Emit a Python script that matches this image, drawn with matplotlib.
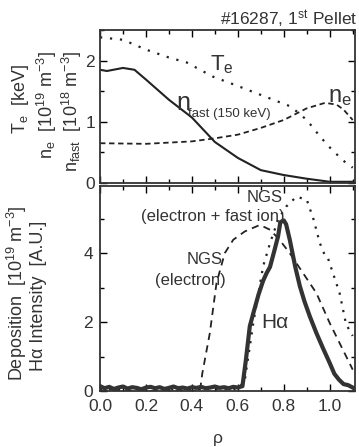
import matplotlib
matplotlib.use("Agg")
import matplotlib.pyplot as plt
from matplotlib.ticker import MultipleLocator

plt.rcParams['font.family'] = ['Liberation Sans', 'DejaVu Sans']
plt.rcParams['mathtext.default'] = 'regular'

# top panel profiles
rho_te = [0.0, 0.1, 0.2, 0.3, 0.377, 0.49, 0.61, 0.72, 0.83, 0.90, 0.96, 1.01, 1.07, 1.10]
te = [2.38, 2.34, 2.18, 2.05, 1.97, 1.74, 1.57, 1.41, 1.25, 1.03, 0.75, 0.54, 0.33, 0.25]

rho_ne = [0.0, 0.2, 0.4, 0.5, 0.6, 0.7, 0.8, 0.9, 0.98, 1.03, 1.06, 1.10]
ne = [0.65, 0.64, 0.68, 0.73, 0.79, 0.90, 1.03, 1.22, 1.31, 1.28, 1.20, 1.03]

rho_nf = [0.0, 0.03, 0.1, 0.15, 0.2, 0.3, 0.4, 0.5, 0.6, 0.7, 0.8, 0.9, 1.0, 1.1]
nfast = [1.85, 1.83, 1.88, 1.85, 1.69, 1.36, 1.07, 0.67, 0.41, 0.21, 0.13, 0.07, 0.02, 0.02]

# bottom panel: H-alpha and NGS deposition
rho_ha = [0.00, 0.02, 0.04, 0.06, 0.08, 0.10, 0.12, 0.14, 0.16, 0.18, 0.20, 0.22,
          0.24, 0.26, 0.28, 0.30, 0.32, 0.34, 0.36, 0.38, 0.40, 0.42, 0.44, 0.46,
          0.48, 0.50, 0.52, 0.54, 0.56, 0.58, 0.60, 0.62, 0.635, 0.652, 0.667,
          0.69, 0.71, 0.725, 0.74, 0.76, 0.775, 0.785, 0.80, 0.81, 0.826, 0.85,
          0.87, 0.89, 0.913, 0.942, 0.97, 1.00, 1.02, 1.04, 1.06, 1.08, 1.10]
ha = [0.14, 0.08, 0.12, 0.06, 0.10, 0.13, 0.07, 0.11, 0.09, 0.05, 0.10, 0.12,
      0.08, 0.11, 0.06, 0.09, 0.13, 0.08, 0.10, 0.07, 0.11, 0.09, 0.12, 0.08,
      0.10, 0.13, 0.09, 0.11, 0.08, 0.12, 0.10, 0.14, 0.9, 1.88, 2.25,
      2.8, 3.2, 3.42, 3.6, 4.1, 4.49, 4.9, 4.95, 4.84, 4.39, 3.6,
      3.04, 2.6, 2.17, 1.68, 1.25, 0.81, 0.5, 0.33, 0.2, 0.17, 0.1]

rho_ngs_e = [0.0, 0.435, 0.445, 0.478, 0.507, 0.543, 0.58, 0.63, 0.696, 0.74,
             0.78, 0.826, 0.884, 0.942, 1.0, 1.057, 1.10]
ngs_e = [0.0, 0.0, 0.5, 1.68, 3.13, 4.0, 4.39, 4.63, 4.82, 4.68,
         4.4, 4.0, 3.42, 2.84, 1.97, 1.2, 0.62]

rho_ngs_f = [0.0, 0.60, 0.63, 0.667, 0.71, 0.74, 0.775, 0.81, 0.855, 0.9, 0.93,
             0.957, 0.978, 0.99, 1.014, 1.043, 1.07, 1.09, 1.10]
ngs_f = [0.05, 0.05, 0.3, 1.97, 3.62, 4.29, 4.97, 5.35, 5.64, 5.55, 4.97,
         4.29, 3.95, 3.9, 3.42, 2.84, 1.97, 1.7, 1.6]

ink = '#333333'

fig = plt.figure(figsize=(3.59, 4.47), dpi=100)
ax1 = fig.add_axes([0.2786, 0.5906, 0.7103, 0.3423])
ax2 = fig.add_axes([0.2786, 0.1253, 0.7103, 0.4586])

ax1.plot(rho_te, te, color='#222222', lw=1.6, linestyle=(0, (1, 3.5)))
ax1.plot(rho_ne, ne, color='#222222', lw=1.3, linestyle=(0, (3, 2)))
ax1.plot(rho_nf, nfast, color='#222222', lw=1.5)

ax1.set_xlim(0, 1.11)
ax1.set_ylim(0, 2.5)
ax1.xaxis.set_major_locator(MultipleLocator(0.2))
ax1.xaxis.set_minor_locator(MultipleLocator(0.1))
ax1.yaxis.set_major_locator(MultipleLocator(1))
ax1.yaxis.set_minor_locator(MultipleLocator(0.5))
ax1.set_xticklabels([])

# curve labels
ax1.text(0.478, 1.93, r'$T_{e}$', fontsize=16, color=ink, ha='left', va='center')
ax1.text(0.333, 1.30, 'n', fontsize=18, color=ink, ha='left', va='center')
ax1.text(0.385, 1.13, 'fast (150 keV)', fontsize=9.5, color=ink, ha='left', va='center')
ax1.text(0.994, 1.40, r'$n_{e}$', fontsize=17, color=ink, ha='left', va='center')

ax2.plot(rho_ngs_f, ngs_f, color='#222222', lw=1.6, linestyle=(0, (1, 3)))
ax2.plot(rho_ngs_e, ngs_e, color='#222222', lw=1.3, linestyle=(0, (4, 3)))
ax2.plot(rho_ha, ha, color=ink, lw=3)

ax2.set_xlim(0, 1.11)
ax2.set_ylim(0, 5.95)
ax2.xaxis.set_minor_locator(MultipleLocator(0.1))
ax2.yaxis.set_major_locator(MultipleLocator(2))
ax2.yaxis.set_minor_locator(MultipleLocator(1))
ax2.set_xticks([0.0, 0.2, 0.4, 0.6, 0.8, 1.0])
ax2.set_xticklabels(['0.0', '0.2', '0.4', '0.6', '0.8', '1.0'])

ax2.text(0.715, 5.62, 'NGS', fontsize=12, color=ink, ha='center', va='center')
ax2.text(0.49, 5.06, '(electron + fast ion)', fontsize=12, color=ink, ha='center', va='center')
ax2.text(0.457, 3.82, 'NGS', fontsize=12, color=ink, ha='center', va='center')
ax2.text(0.393, 3.22, '(electron)', fontsize=12, color=ink, ha='center', va='center')
ax2.text(0.70, 2.0, 'H\u03b1', fontsize=15, color=ink, ha='left', va='center')

for ax in (ax1, ax2):
    ax.tick_params(which='both', direction='in', top=True, right=True,
                   labelsize=12.5, labelcolor=ink, width=1)
    ax.tick_params(which='major', length=5)
    ax.tick_params(which='minor', length=3)
    for s in ax.spines.values():
        s.set_linewidth(1.3)
        s.set_color(ink)
ax2.tick_params(axis='x', pad=6)
ax2.tick_params(axis='y', pad=5)

fig.text(0.995, 0.958, r'#16287, 1$^{st}$ Pellet', fontsize=12.5, color=ink,
         ha='right', va='center')

fig.text(0.056, 0.778, r'$T_e$  [keV]', rotation=90, fontsize=13, color=ink,
         ha='center', va='center')
fig.text(0.131, 0.766, r'$n_e$  [10$^{19}$ m$^{-3}$]', rotation=90, fontsize=13,
         color=ink, ha='center', va='center')
fig.text(0.200, 0.750, r'$n_{fast}$  [10$^{18}$ m$^{-3}$]', rotation=90, fontsize=13,
         color=ink, ha='center', va='center')

fig.text(0.047, 0.345, r'Deposition  [10$^{19}$ m$^{-3}$]', rotation=90, fontsize=13,
         color=ink, ha='center', va='center')
fig.text(0.106, 0.338, 'H\u03b1 Intensity  [A.U.]', rotation=90, fontsize=13,
         color=ink, ha='center', va='center')

fig.text(0.607, 0.02, '\u03c1', fontsize=12.5, color=ink, ha='center', va='center')

fig.savefig('out.png', dpi=100)
